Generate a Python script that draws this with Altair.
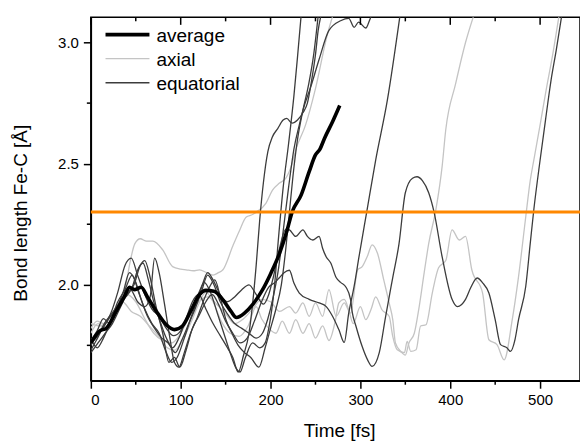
import altair as alt
import pandas as pd

# ---- data: (time [fs], Fe-C bond length [Å]) ----
average = [(0,1.76),(10,1.81),(17,1.82),(28,1.89),(37,1.95),(43,1.99),(49,1.98),(56,1.99),(63,1.95),
           (73,1.89),(84,1.835),(93,1.815),(102,1.83),(111,1.89),(121,1.96),(128,1.977),(137,1.973),
           (147,1.938),(156,1.89),(162,1.865),(171,1.883),(180,1.918),(191,1.979),(200,2.045),(210,2.13),
           (218,2.22),(224,2.30),(234,2.37),(243,2.467),(250,2.536),(255,2.56),(260,2.604),(269,2.673),(277,2.74)]

axial_1 = [(0,1.82),(7,1.85),(14,1.84),(22,1.87),(30,1.90),(36,1.95),(40,2.02),(44,2.10),(49,2.17),(55,2.19),
           (62,2.18),(69,2.18),(80,2.144),(91,2.075),(100,2.065),(106,2.062),(114,2.058),(121,2.062),(129,2.05),
           (136,2.04),(142,2.05),(147,2.062),(158,2.16),(165,2.22),(173,2.28),(180,2.29),(184,2.30),(195,2.337),
           (202,2.39),(210,2.42),(217,2.44),(224,2.50),(228,2.556),(239,2.66),(250,2.81),(263,3.03),(270,3.12)]
axial_2 = [(0,1.84),(10,1.83),(20,1.86),(30,1.90),(40,1.96),(50,1.93),(60,1.86),(70,1.80),(80,1.77),(90,1.76),
           (100,1.80),(110,1.87),(120,1.93),(130,1.95),(140,1.92),(150,1.88),(160,1.84),(170,1.86),(180,1.90),
           (190,1.94),(200,1.93),(210,1.89),(221,1.91),(228,1.883),(236,1.925),(243,1.87),(250,1.925),(258,1.87),
           (265,1.98),(273,1.87),(282,1.925),(289,1.883),(297,2.062),(302,2.075),(308,2.12),(313,2.165),(319,2.13),
           (326,2.02),(332,1.925),(336,1.856),(339,1.76),(345,1.725),(350,1.71),(354,1.76),(360,1.80),(365,1.90),
           (371,2.05),(376,2.17),(384,2.31),(391,2.49),(395,2.64),(406,2.83),(417,3.00),(426,3.11)]
axial_3 = [(0,1.80),(8,1.84),(15,1.82),(25,1.86),(35,1.93),(45,1.89),(55,1.87),(65,1.83),(75,1.79),(85,1.74),
           (93,1.73),(102,1.77),(112,1.85),(120,1.92),(128,1.97),(136,1.93),(145,1.85),(155,1.80),(165,1.787),
           (175,1.83),(184,1.91),(190,1.86),(198,1.82),(206,1.80),(213,1.85),(221,1.80),(228,1.856),(236,1.80),
           (243,1.84),(250,1.78),(258,1.83),(265,1.77),(272,1.85),(276,1.925),(282,1.94),(287,1.897),(292,1.84),
           (300,1.91),(306,1.856),(312,1.90),(317,1.95),(324,1.897),(332,1.87),(336,1.787),(341,1.732),(349,1.72),
           (352,1.766),(356,1.725),(362,1.732),(367,1.83),(373,1.835),(380,1.966),(387,2.07),(395,2.10),(402,2.227),
           (410,2.185),(417,2.2),(424,2.062),(436,1.966),(443,1.773),(452,1.753),(460,1.69),(469,1.856),(476,2.034),
           (484,2.28),(489,2.43),(493,2.515),(500,2.66),(507,2.81),(514,2.95),(521,3.11)]

equatorial_1 = [(0,1.75),(8,1.80),(15,1.83),(22,1.88),(30,1.97),(38,2.08),(45,2.11),(52,2.04),(60,1.96),(68,1.90),
                (76,1.87),(84,1.82),(92,1.79),(100,1.81),(108,1.87),(116,1.93),(124,2.00),(130,2.05),(136,2.02),
                (144,1.96),(152,1.93),(160,1.95),(168,1.98),(176,2.00),(184,1.96),(192,1.92),(198,1.96),(203,2.03),
                (210,2.15),(217,2.23),(221,2.227),(228,2.20),(236,2.227),(241,2.20),(247,2.185),(254,2.2),(258,2.15),
                (262,2.115),(267,2.09),(273,2.03),(278,2.01),(284,1.99),(289,1.94),(291,1.885),(295,1.83),(302,1.745),
                (308,1.69),(313,1.663),(321,1.72),(328,1.868),(336,2.03),(343,2.17),(350,2.38),(358,2.44),(363,2.446),
                (369,2.43),(376,2.38),(382,2.30),(391,2.115),(402,1.94),(408,1.91),(417,1.94),(423,1.99),(430,2.028),
                (436,2.008),(443,1.966),(450,1.856),(456,1.753),(463,1.74),(467,1.725),(472,1.773),(476,1.856),
                (484,1.993),(489,2.17),(493,2.31),(500,2.515),(506,2.68),(512,2.84),(518,2.97),(524,3.11)]
equatorial_2 = [(0,1.72),(8,1.76),(16,1.80),(24,1.84),(32,1.90),(40,1.96),(48,2.00),(55,2.08),(60,2.10),(66,2.03),
                (72,1.92),(80,1.80),(87,1.68),(93,1.70),(99,1.66),(106,1.73),(113,1.82),(120,1.87),(128,1.93),
                (135,1.96),(142,1.92),(150,1.85),(158,1.80),(166,1.76),(174,1.78),(182,1.85),(190,1.93),(198,1.99),
                (205,2.01),(210,2.03),(215,2.05),(221,2.06),(226,2.007),(232,1.966),(243,1.94),(254,1.925),(262,1.91),
                (269,1.87),(276,1.815),(282,1.762),(287,1.883),(293,1.993),(298.5,2.117),(307,2.30),(317,2.515),
                (330,2.762),(344,3.11)]
equatorial_3 = [(0,1.78),(7,1.74),(14,1.78),(22,1.85),(30,1.93),(38,1.98),(46,2.04),(53,1.97),(60,1.90),(68,1.84),
                (76,1.80),(84,1.72),(90,1.68),(96,1.70),(104,1.78),(112,1.87),(120,1.95),(126,2.01),(133,1.97),
                (141,1.88),(148,1.80),(155,1.72),(161,1.66),(166,1.64),(172,1.70),(180,1.76),(188,1.74),(194,1.76),
                (198,1.82),(204,1.98),(209,2.20),(214,2.40),(220,2.58),(226,2.78),(230,2.94),(234,3.11)]
equatorial_4 = [(0,1.76),(8,1.79),(15,1.84),(23,1.88),(31,1.92),(39,1.95),(46,1.99),(52,2.06),(58,2.09),(64,2.02),
                (70,1.93),(77,1.85),(84,1.78),(91,1.74),(98,1.78),(106,1.86),(113,1.93),(120,1.96),(128,1.90),
                (136,1.84),(144,1.79),(152,1.74),(158,1.70),(164,1.64),(170,1.71),(176,1.80),(180,1.92),(184,2.08),
                (188,2.27),(192,2.42),(197,2.55),(202,2.61),(208,2.645),(214,2.68),(218,2.687),(224,2.667),(230,2.68),
                (236,2.71),(241,2.75),(246,2.85),(250,2.95),(253,3.05),(256,3.11)]
equatorial_5 = [(0,1.73),(6,1.77),(13,1.82),(20,1.86),(28,1.90),(36,1.97),(43,2.05),(49,2.02),(56,1.94),(63,1.87),
                (71,1.82),(79,1.78),(86,1.76),(94,1.72),(101,1.77),(109,1.84),(116,1.90),(123,1.97),(130,2.04),
                (137,2.00),(144,1.93),(152,1.88),(160,1.84),(168,1.82),(176,1.80),(184,1.78),(191,1.80),(197,1.86),
                (203,1.95),(209,2.07),(214,2.22),(220,2.40),(226,2.56),(232,2.66),(236,2.72),(245,2.82),(254,2.93),
                (265,3.05),(278,3.09),(287,3.10),(293,3.063),(298,3.084),(306,3.06),(310,3.09),(314,3.13)]
equatorial_6 = [(0,1.77),(7,1.81),(14,1.86),(21,1.84),(28,1.88),(36,1.94),(44,1.98),(52,1.93),(60,1.91),(66,1.95),
                (71,2.11),(76,2.05),(82,1.92),(88,1.78),(93,1.68),(98,1.66),(104,1.72),(111,1.80),(118,1.86),
                (125,1.93),(132,1.99),(138,2.02),(144,1.95),(150,1.86),(157,1.80),(164,1.75),(171,1.72),(178,1.70),
                (187,1.66),(194,1.74),(200,1.82),(206,1.90),(212,2.00),(217,2.15),(221,2.30),(225,2.45),(230,2.60),
                (236,2.72),(242,2.82),(248,2.95),(253,3.11)]

threshold = [2.3]
kinds = ["average", "axial", "equatorial"]
kind_colors = ["#000000", "#c4c4c4", "#3c3c3c"]
kind_widths = [3.6, 1.3, 1.3]

x_major = [0, 100, 200, 300, 400, 500]
x_minor = [50, 150, 250, 350, 450]
y_major = [2.0, 2.5, 3.0]
y_minor = [1.75, 2.25, 2.75]

traces = [("average", "avg", average),
          ("axial", "ax1", axial_1), ("axial", "ax2", axial_2), ("axial", "ax3", axial_3),
          ("equatorial", "eq1", equatorial_1), ("equatorial", "eq2", equatorial_2),
          ("equatorial", "eq3", equatorial_3), ("equatorial", "eq4", equatorial_4),
          ("equatorial", "eq5", equatorial_5), ("equatorial", "eq6", equatorial_6)]

rows = []
for kind, tid, pts in traces:
    for i, (t, r) in enumerate(pts):
        rows.append({"t": t, "r": r, "trace": tid, "kind": kind, "i": i})
df = pd.DataFrame(rows)

W, H = 490, 364
xscale = alt.Scale(domain=[0, 544.4], nice=False, zero=False)
yscale = alt.Scale(domain=[1.604, 3.104], nice=False, zero=False)
FONT = "Liberation Sans"

color = alt.Color("kind:N", scale=alt.Scale(type="ordinal", domain=kinds, range=kind_colors), legend=None)
swidth = alt.StrokeWidth("kind:N", scale=alt.Scale(type="ordinal", domain=kinds, range=kind_widths), legend=None)

xaxis = alt.Axis(values=x_major, title="Time [fs]", tickSize=7.5, labelPadding=4,
                 titleX=248.7, titleY=56, titleBaseline="alphabetic", titleAlign="center", titleAnchor="start")
yaxis = alt.Axis(values=y_major, format=".1f", title="Bond length Fe-C [Å]", tickSize=7.5, labelPadding=5,
                 titleX=-64, titleY=195.7, titleAlign="center", titleAnchor="start", titleBaseline="alphabetic")

def lines(kind, with_axis):
    return alt.Chart(df).transform_filter(alt.datum.kind == kind).mark_line(
        clip=True, interpolate="monotone").encode(
        x=alt.X("t:Q", scale=xscale, axis=xaxis),
        y=alt.Y("r:Q", scale=yscale, axis=yaxis if with_axis else None),
        detail="trace:N", order="i:Q", color=color, strokeWidth=swidth)

thr = alt.Chart(pd.DataFrame({"r": threshold})).mark_rule(color="#ff8800", strokeWidth=3).encode(
    y=alt.Y("r:Q", scale=yscale, axis=None))

xmin_df = pd.DataFrame({"t": x_minor})
xmaj_df = pd.DataFrame({"t": x_major})
ymin_df = pd.DataFrame({"r": y_minor})
tick_style = dict(color="#000", strokeWidth=1.5)
bottom_minor = alt.Chart(xmin_df).mark_rule(**tick_style).encode(
    x=alt.X("t:Q", scale=xscale), y=alt.value(H), y2=alt.value(H + 4))
top_minor = alt.Chart(xmin_df).mark_rule(**tick_style).encode(
    x=alt.X("t:Q", scale=xscale), y=alt.value(0), y2=alt.value(4))
top_major = alt.Chart(xmaj_df).mark_rule(**tick_style).encode(
    x=alt.X("t:Q", scale=xscale), y=alt.value(0), y2=alt.value(7.5))
left_minor = alt.Chart(ymin_df).mark_rule(**tick_style).encode(
    y=alt.Y("r:Q", scale=yscale, axis=None), x=alt.value(-4), x2=alt.value(0))

# legend (top-left, inside the plot)
legend_df = pd.DataFrame({"kind": kinds})
leg_y = alt.Y("kind:N", scale=alt.Scale(type="point", domain=kinds, range=[17.3, 65.5], padding=0), axis=None)
leg_lines = alt.Chart(legend_df).mark_rule().encode(
    x=alt.value(14.7), x2=alt.value(58.7), y=leg_y, color=color, strokeWidth=swidth)
leg_text = alt.Chart(legend_df).mark_text(align="left", baseline="middle", font=FONT, fontSize=19,
                                          color="#000", dy=1).encode(
    x=alt.value(65.7), y=leg_y, text="kind:N")

chart = alt.layer(
    lines("axial", True), lines("equatorial", False), lines("average", False), thr,
    bottom_minor, top_minor, top_major, left_minor, leg_lines, leg_text
).resolve_scale(y="independent").properties(
    width=W, height=H,
    padding={"left": 91, "top": 17, "right": 0, "bottom": 61},
    autosize=alt.AutoSizeParams(type="none"),
    background="white"
).configure_view(stroke="#000", strokeWidth=1.5).configure_axis(
    grid=False, domainColor="#000", domainWidth=1.5, tickColor="#000", tickWidth=1.5,
    labelFont=FONT, labelFontSize=15, labelColor="#000",
    titleFont=FONT, titleFontSize=19, titleFontWeight="normal", titleColor="#000"
)

chart.save("out.html", embed_options={"renderer": "svg", "actions": False})
